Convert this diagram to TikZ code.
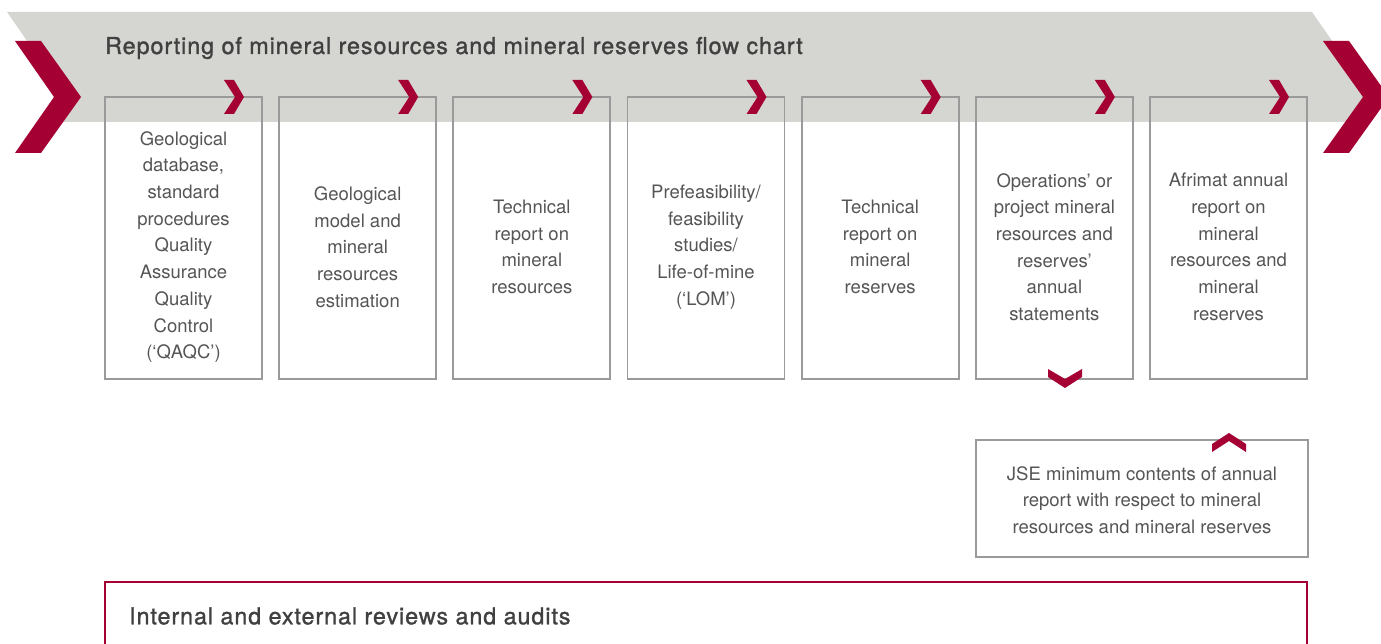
\documentclass[tikz,border=0pt]{standalone}
\usepackage{fontspec}
\setmainfont{TeX Gyre Heros}
\newfontfamily\medfont{TeX Gyre Heros}[FakeBold=1.2]
\definecolor{band}{HTML}{D5D5D1}
\definecolor{crim}{HTML}{A50034}
\definecolor{edge}{HTML}{9A9A9A}
\definecolor{txt}{HTML}{555555}
\definecolor{ttl}{HTML}{404040}
\tikzset{
  stepbox/.style={draw=edge, line width=1.8pt, rectangle, minimum width=157pt, minimum height=282pt, inner sep=0pt},
  steptext/.style={align=center, text=txt, font=\fontsize{18.5}{26.7}\selectfont, inner sep=0pt},
  headtext/.style={anchor=west, text=ttl, font=\medfont\fontsize{23.3}{27}\selectfont, inner sep=0pt},
  chev/.style={fill=crim, draw=none},
}
\newcommand\smallchev[2]{\fill[chev] (#1-20,#2-17) -- (#1-10,#2-17) -- (#1,#2) -- (#1-10,#2+17) -- (#1-20,#2+17) -- (#1-9,#2) -- cycle;}
\begin{document}
\begin{tikzpicture}[x=1pt,y=-1pt]
\useasboundingbox (0,0) rectangle (1381,644);
% grey band
\fill[band] (7,12) -- (1312,12) -- (1371,97) -- (1355,122) -- (50,122) -- (66,97) -- cycle;
% big chevrons
\fill[chev] (15,41) -- (41,41) -- (81,97) -- (41,153) -- (15,153) -- (54,97) -- cycle;
\fill[chev] (1323,41) -- (1349,41) -- (1389,97) -- (1349,153) -- (1323,153) -- (1363,97) -- cycle;
% title
\node[headtext] (title) at (105,48) {\addfontfeature{LetterSpace=4}Reporting of mineral resources and mineral reserves flow chart};
% boxes
\foreach \i/\t in {0/{Geological\\database,\\standard\\procedures\\Quality\\Assurance\\Quality\\Control\\(‘QAQC’)},
                   1/{Geological\\model and\\mineral\\resources\\estimation},
                   2/{Technical\\report on\\mineral\\resources},
                   3/{Prefeasibility/\\feasibility\\studies/\\Life-of-mine\\(‘LOM’)},
                   4/{Technical\\report on\\mineral\\reserves},
                   5/{Operations’ or\\project mineral\\resources and\\reserves’\\annual\\statements},
                   6/{Afrimat annual\\report on\\mineral\\resources and\\mineral\\reserves}} {
  \pgfmathsetmacro\xl{105+174.17*\i}
  \node[stepbox] (b\i) at (\xl+78.5,238) {};
  \node[steptext] (t\i) at (\xl+78.5,247) {\t};
  \smallchev{\xl+139}{97}
}
% JSE box
\node[draw=edge, line width=1.8pt, minimum width=332pt, minimum height=117pt, inner sep=0pt] (jse) at (1142,498.5) {};
\node[steptext] (jsetext) at (1142,500) {JSE minimum contents of annual\\report with respect to mineral\\resources and mineral reserves};
% down chevron under box 6
\fill[chev] (1048,369) -- (1065,379) -- (1082,369) -- (1082,377) -- (1065,388) -- (1048,377) -- cycle;
% up chevron on JSE box
\fill[chev] (1212,452) -- (1212,444) -- (1229,433) -- (1246,444) -- (1246,452) -- (1229,441) -- cycle;
% bottom box
\draw[crim, line width=2.5pt] (105,670) -- (105,582) -- (1307,582) -- (1307,670);
\node[headtext] (audit) at (129,616) {\addfontfeature{LetterSpace=4}Internal and external reviews and audits};
\end{tikzpicture}
\end{document}
